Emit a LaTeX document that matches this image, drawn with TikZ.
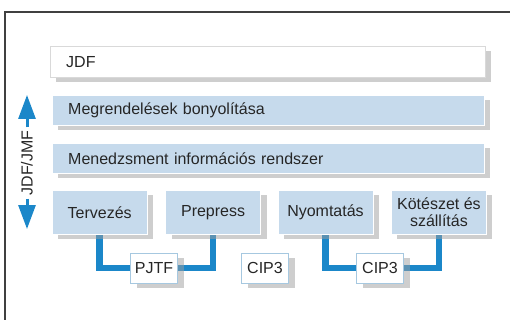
\documentclass[tikz,border=0pt]{standalone}
\usepackage{fontspec}
\setmainfont{Liberation Sans}
\usepackage{tikz}
\usetikzlibrary{arrows.meta,positioning,shadows,backgrounds}

\definecolor{boxblue}{HTML}{C6DAEC}
\definecolor{linkblue}{HTML}{1B87C9}
\definecolor{tagedge}{HTML}{A6C8E0}

\begin{document}
\begin{tikzpicture}[x=1pt,y=-1pt,node distance=18pt,
                    every node/.style={font=\fontsize{16}{17.5}\selectfont,text=black!85},
                    shade/.style={drop shadow={shadow xshift=6pt,shadow yshift=-5pt,fill=black!38}},
                    layer/.style={shade,draw=white,fill=boxblue,anchor=north west,text width=400pt,
                                  inner xsep=16pt,minimum height=30pt,align=left},
                    stage/.style={shade,draw=white,fill=boxblue,anchor=north west,minimum width=95pt,
                                  minimum height=44pt,align=center,inner sep=2pt},
                    tag/.style={shade,draw=tagedge,fill=white,minimum width=47pt,minimum height=30pt,inner sep=2pt},
                    link/.style={linkblue,line width=6.5pt},
                    updown/.style={linkblue,line width=3pt,-{Triangle[width=17pt,length=24pt]}}]

  \useasboundingbox (0,0) rectangle (510,320);
  \draw[black!75,line width=1.2pt] (510,12) -- (5,12) -- (5,320);

  \node[layer, fill=white, draw=black!15, text width=403pt, minimum height=31pt] (jdf) at (50,46) {JDF};
  \node[layer] (order) at (52,95)  {Megrendelések bonyolítása};
  \node[layer] (mis)   at (52,143) {Menedzsment információs rendszer};

  \node[stage] (terv)  at (52,190)    {Tervezés};
  \node[stage] (prep)  [right=of terv] {Prepress};
  \node[stage] (nyom)  [right=17pt of prep] {Nyomtatás};
  \node[stage] (kot)   [right=of nyom] {Kötészet és\\szállítás};

  \node[tag] (pjtf)  at (154,268) {PJTF};
  \node[tag] (cipa)  at (265,268) {CIP3};
  \node[tag] (cipb)  at (380,268) {CIP3};

  \begin{scope}[on background layer]
    \draw[link] (terv.south) |- (pjtf.west);
    \draw[link] (prep.south) |- (pjtf.east);
    \draw[link] (nyom.south) |- (cipb.west);
    \draw[link] (kot.south)  |- (cipb.east);
  \end{scope}

  % JDF/JMF arrow
  \node[rotate=90,inner sep=3pt] (jmf) at (27,163) {JDF/JMF};
  \coordinate (uptip) at (27,95);
  \coordinate (downtip) at (27,229);
  \draw[updown] (jmf.east) -- (uptip);
  \draw[updown] (jmf.west) -- (downtip);
\end{tikzpicture}
\end{document}
